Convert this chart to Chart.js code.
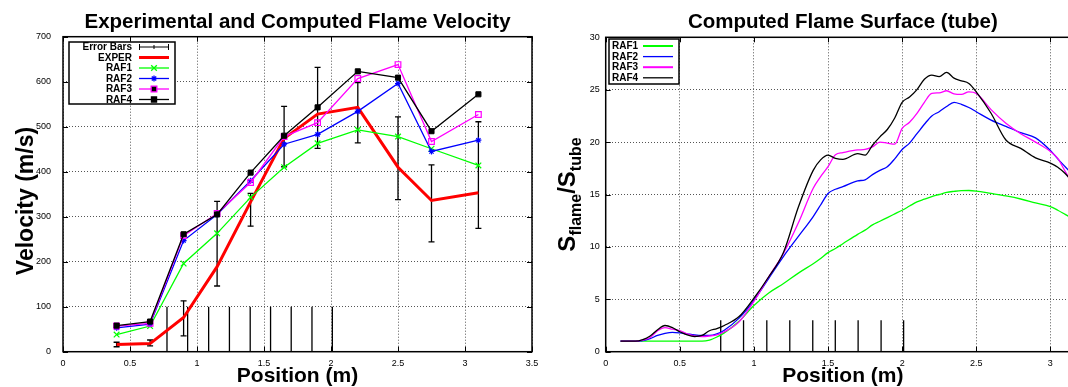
<!DOCTYPE html>
<html><head><meta charset="utf-8">
<script src="https://cdn.jsdelivr.net/npm/chart.js@4/dist/chart.umd.min.js"></script>
<style>
html,body{margin:0;padding:0;background:#fff;overflow:hidden;width:1068px;height:387px;position:relative;}
#w1{position:absolute;left:0;top:0;width:545px;height:387px;}
#w2{position:absolute;left:545px;top:0;width:560px;height:387px;}
</style></head><body>
<div id="w1"><canvas id="c1"></canvas></div>
<div id="w2"><canvas id="c2"></canvas></div>
<script>
// ---------- Left chart data ----------
const velTitle = 'Experimental and Computed Flame Velocity';
const velPositions = [0.40,0.65,0.90,1.15,1.40,1.65,1.90,2.20,2.50,2.75,3.10];
const experVel = [16,18,76,189,333,474,528,543,410,336,353];
const errLow  = [11,13,35,146,279,411,452,464,338,244,274];
const errHigh = [21,26,113,334,352,545,632,598,522,415,511];
const raf1Vel = [38,57,196,263,343,410,463,493,478,451,414];
const raf2Vel = [53,61,247,305,380,461,483,534,596,445,470];
const raf3Vel = [57,63,258,307,376,478,509,607,638,467,527];
const raf4Vel = [58,67,261,305,398,480,543,623,609,490,572];
const velXTicks = [0,0.5,1,1.5,2,2.5,3,3.5];
const velYTicks = [0,100,200,300,400,500,600,700];
const sensorPos = [0.776,0.930,1.087,1.242,1.397,1.549,1.703,1.858,2.010];
const velSensorTop = 100;

// ---------- Right chart data ----------
const surfTitle = 'Computed Flame Surface (tube)';
const surfX = [0.10,0.20,0.25,0.30,0.35,0.40,0.45,0.50,0.55,0.60,0.65,0.70,0.75,0.80,0.90,1.00,1.10,1.20,1.30,1.40,1.45,1.50,1.55,1.60,1.70,1.75,1.80,1.85,1.90,1.95,2.00,2.05,2.10,2.15,2.20,2.25,2.30,2.35,2.40,2.45,2.50,2.60,2.70,2.80,2.90,3.00,3.05,3.10,3.15];
const raf1Surf = [1.0,1.0,1.0,1.0,1.0,1.0,1.0,1.0,1.0,1.0,1.0,1.1,1.4,1.8,2.9,4.4,5.6,6.5,7.5,8.4,8.9,9.45,9.85,10.3,11.2,11.6,12.1,12.45,12.8,13.15,13.5,13.9,14.3,14.55,14.8,15.0,15.2,15.3,15.37,15.38,15.33,15.1,14.86,14.57,14.2,13.85,13.5,13.1,12.7];
const raf2Surf = [1.0,1.0,1.05,1.25,1.55,1.75,1.85,1.8,1.7,1.6,1.55,1.55,1.7,2.05,3.2,4.9,7.0,9.1,11.0,12.9,14.0,15.1,15.5,15.75,16.3,16.4,16.9,17.3,17.65,18.4,19.3,19.9,20.8,21.7,22.5,22.9,23.4,23.8,23.6,23.3,22.9,22.1,21.5,20.9,20.4,19.2,18.4,17.65,16.9];
const raf3Surf = [1.0,1.0,1.1,1.35,2.0,2.3,2.15,2.0,1.7,1.5,1.45,1.5,1.6,1.9,2.85,4.8,7.15,9.4,12.3,15.6,16.7,17.65,18.8,19.0,19.25,19.3,19.55,20.0,19.9,19.8,21.3,21.9,22.75,23.8,24.65,24.7,24.9,24.6,24.55,24.8,24.65,23.1,21.8,20.8,20.0,19.1,18.45,17.2,16.0];
const raf4Surf = [1.0,1.0,1.15,1.5,2.1,2.5,2.3,1.9,1.6,1.45,1.55,2.0,2.2,2.5,3.35,5.1,7.15,9.5,13.8,17.3,18.3,18.75,18.45,18.35,18.9,18.75,19.7,20.5,21.2,22.3,23.8,24.3,25.0,26.0,26.4,26.25,26.65,26.1,25.85,25.6,24.8,22.75,20.2,19.4,18.5,18.0,17.6,17.0,16.2];
const surfXTicks = [0,0.5,1,1.5,2,2.5,3];
const surfYTicks = [0,5,10,15,20,25,30];
const surfXMax = 3.2;
const surfSensorTop = 3;

// ---------- helpers ----------
const FONT = '"Liberation Sans", Arial, Helvetica, sans-serif';
function pts(xs, ys){ return xs.map((x,i)=>({x:x, y:ys[i]})); }
function segs(xs, lo, hi){ const o=[]; xs.forEach((x,i)=>{ o.push({x:x,y:lo(i)},{x:x,y:hi(i)},{x:x,y:null}); }); return o; }
const fmt = v => String(v);

const framePlugin = {
  id:'frame',
  afterDatasetsDraw(chart){
    const {ctx, chartArea:a, scales} = chart;
    ctx.save();
    ctx.strokeStyle='#000'; ctx.lineWidth=1.5;
    ctx.strokeRect(a.left, a.top, a.right-a.left, a.bottom-a.top);
    ctx.lineWidth=1;
    const tl=5;
    scales.x.ticks.forEach(t=>{
      const p=Math.round(scales.x.getPixelForValue(t.value))+0.5;
      ctx.beginPath(); ctx.moveTo(p,a.bottom); ctx.lineTo(p,a.bottom-tl);
      ctx.moveTo(p,a.top); ctx.lineTo(p,a.top+tl); ctx.stroke();
    });
    scales.y.ticks.forEach(t=>{
      const p=Math.round(scales.y.getPixelForValue(t.value))+0.5;
      ctx.beginPath(); ctx.moveTo(a.left,p); ctx.lineTo(a.left+tl,p);
      ctx.moveTo(a.right,p); ctx.lineTo(a.right-tl,p); ctx.stroke();
    });
    ctx.restore();
  }
};

const legendPlugin = {
  id:'boxLegend',
  afterDraw(chart, args, o){
    if(!o || !o.items) return;
    const ctx=chart.ctx;
    ctx.save();
    ctx.fillStyle='#fff'; ctx.fillRect(o.box[0],o.box[1],o.box[2],o.box[3]);
    ctx.strokeStyle='#000'; ctx.lineWidth=1.5; ctx.strokeRect(o.box[0],o.box[1],o.box[2],o.box[3]);
    ctx.font='bold 10px '+FONT; ctx.textBaseline='middle';
    o.items.forEach((it,i)=>{
      const y=o.y0+i*o.dy;
      ctx.fillStyle='#000';
      ctx.textAlign=o.textAlign;
      ctx.fillText(it.label,o.textX,y+0.5);
      ctx.strokeStyle=it.color; ctx.lineWidth=it.width;
      ctx.beginPath(); ctx.moveTo(o.s0,y); ctx.lineTo(o.s1,y); ctx.stroke();
      const m=(o.s0+o.s1)/2;
      if(it.err){
        ctx.lineWidth=1;
        ctx.beginPath();
        ctx.moveTo(o.s0+0.5,y-3); ctx.lineTo(o.s0+0.5,y+3);
        ctx.moveTo(o.s1-0.5,y-3); ctx.lineTo(o.s1-0.5,y+3);
        ctx.moveTo(m,y-2); ctx.lineTo(m,y+2);
        ctx.stroke();
      }
      if(it.point){
        Chart.helpers.drawPoint(ctx,{pointStyle:it.point,radius:it.radius,borderWidth:1.2},m,y);
      }
    });
    ctx.restore();
  }
};

// rotated y-axis title, optionally with subscripts
const yTitlePlugin = {
  id:'yTitle',
  afterDraw(chart, args, o){
    if(!o || !o.parts) return;
    const ctx=chart.ctx;
    ctx.save();
    let total=0;
    const parts=o.parts.map(p=>{ctx.font='bold '+p.size+'px '+FONT; const w=ctx.measureText(p.text).width; total+=w; return Object.assign({w:w},p);});
    ctx.translate(o.x,o.y); ctx.rotate(-Math.PI/2);
    ctx.fillStyle='#000'; ctx.textBaseline='alphabetic'; ctx.textAlign='left';
    let x=-total/2;
    parts.forEach(p=>{ctx.font='bold '+p.size+'px '+FONT; ctx.fillText(p.text,x,o.base+(p.sub||0)); x+=p.w;});
    ctx.restore();
  }
};

function axisCommon(){
  return {
    type:'linear',
    grid:{color:'#555',lineWidth:1,drawTicks:false},
    border:{display:false,dash:[1,2]},
  };
}

// ---------- Left chart ----------
const velSets = [
  {label:'RAF4',data:pts(velPositions,raf4Vel),borderColor:'#000',backgroundColor:'#000',borderWidth:1.3,pointStyle:'rect',pointRadius:3.6,pointBorderWidth:1,pointBackgroundColor:'#000',order:0},
  {label:'RAF3',data:pts(velPositions,raf3Vel),borderColor:'#ff00ff',borderWidth:1.3,pointStyle:'rect',pointRadius:4,pointBorderWidth:1.2,pointBackgroundColor:'rgba(0,0,0,0)',order:1},
  {label:'RAF2',data:pts(velPositions,raf2Vel),borderColor:'#0000ff',borderWidth:1.3,pointStyle:'star',pointRadius:3,pointBorderWidth:1.2,order:2},
  {label:'RAF1',data:pts(velPositions,raf1Vel),borderColor:'#00ff00',borderWidth:1.3,pointStyle:'crossRot',pointRadius:4,pointBorderWidth:1.2,order:3},
  {label:'EXPER',data:pts(velPositions,experVel),borderColor:'#ff0000',borderWidth:3,pointRadius:0,order:4},
  {label:'Error Bars',data:segs(velPositions,i=>errLow[i],i=>errHigh[i]),borderColor:'#000',borderWidth:1.3,pointRadius:0,spanGaps:false,order:5},
  {label:'caps',data:[].concat(pts(velPositions,errLow),pts(velPositions,errHigh)),borderColor:'#000',showLine:false,pointStyle:'line',pointRadius:3,pointBorderWidth:1.3,order:5},
  {label:'sensors',data:segs(sensorPos,()=>0,()=>velSensorTop),borderColor:'#000',borderWidth:1.3,pointRadius:0,spanGaps:false,order:6}
];

new Chart(document.getElementById('c1'),{
  type:'line',
  data:{datasets:velSets},
  plugins:[framePlugin,legendPlugin,yTitlePlugin],
  options:{
    responsive:true,maintainAspectRatio:false,animation:false,
    layout:{padding:{left:0,right:13,top:0,bottom:0}},
    plugins:{
      legend:{display:false},tooltip:{enabled:false},
      title:{display:true,text:velTitle,fullSize:false,color:'#000',font:{family:FONT,size:20.5,weight:'bold',lineHeight:1.2},padding:{top:9.8,bottom:2.3}},
      boxLegend:{box:[69,42,106,62],y0:47,dy:10.5,textX:132,textAlign:'right',s0:139,s1:169,items:[
        {label:'Error Bars',color:'#000',width:1,err:true},
        {label:'EXPER',color:'#ff0000',width:3},
        {label:'RAF1',color:'#00ff00',width:1.3,point:'crossRot',radius:4},
        {label:'RAF2',color:'#0000ff',width:1.3,point:'star',radius:3},
        {label:'RAF3',color:'#ff00ff',width:1.3,point:'rect',radius:4},
        {label:'RAF4',color:'#000',width:1.3,point:'rect',radius:3.6}
      ]},
      yTitle:{x:25,y:201,base:8,parts:[{text:'Velocity (m/s)',size:23}]}
    },
    elements:{line:{tension:0}},
    scales:{
      x:Object.assign(axisCommon(),{min:velXTicks[0],max:velXTicks[velXTicks.length-1],
        ticks:{stepSize:0.5,padding:6,color:'#000',font:{family:FONT,size:9},maxRotation:0,callback:fmt},
        afterBuildTicks:s=>{s.ticks=velXTicks.map(v=>({value:v}));},
        afterFit:s=>{s.height=35.3;},
        title:{display:true,text:'Position (m)',color:'#000',font:{family:FONT,size:21,weight:'bold',lineHeight:1},padding:{top:0,bottom:0}}}),
      y:Object.assign(axisCommon(),{min:velYTicks[0],max:velYTicks[velYTicks.length-1],
        ticks:{stepSize:100,padding:12,color:'#000',font:{family:FONT,size:9},callback:fmt},
        afterBuildTicks:s=>{s.ticks=velYTicks.map(v=>({value:v}));},
        afterFit:s=>{s.width=63;}})
    }
  }
});

// ---------- Right chart ----------
const surfSets = [
  {label:'RAF4',data:pts(surfX,raf4Surf),borderColor:'#000',order:0},
  {label:'RAF3',data:pts(surfX,raf3Surf),borderColor:'#ff00ff',order:1},
  {label:'RAF2',data:pts(surfX,raf2Surf),borderColor:'#0000ff',order:2},
  {label:'RAF1',data:pts(surfX,raf1Surf),borderColor:'#00ff00',order:3},
  {label:'sensors',data:segs(sensorPos,()=>0,()=>surfSensorTop),borderColor:'#000',borderWidth:1.3,spanGaps:false,cubicInterpolationMode:'default',tension:0,order:6}
];

new Chart(document.getElementById('c2'),{
  type:'line',
  data:{datasets:surfSets},
  plugins:[framePlugin,legendPlugin,yTitlePlugin],
  options:{
    responsive:true,maintainAspectRatio:false,animation:false,
    layout:{padding:{left:0,right:25,top:0,bottom:0}},
    elements:{line:{borderWidth:1.3,cubicInterpolationMode:'monotone'},point:{radius:0}},
    plugins:{
      legend:{display:false},tooltip:{enabled:false},
      title:{display:true,text:surfTitle,fullSize:false,color:'#000',font:{family:FONT,size:20.5,weight:'bold',lineHeight:1.2},padding:{top:10.4,bottom:2.3}},
      boxLegend:{box:[64,39,70,45],y0:46,dy:10.6,textX:67,textAlign:'left',s0:98,s1:128,items:[
        {label:'RAF1',color:'#00ff00',width:2},
        {label:'RAF2',color:'#0000ff',width:1.3},
        {label:'RAF3',color:'#ff00ff',width:2},
        {label:'RAF4',color:'#000',width:1.3}
      ]},
      yTitle:{x:22,y:194.5,base:8,parts:[{text:'S',size:24},{text:'flame',size:16,sub:6},{text:'/',size:24},{text:'S',size:24},{text:'tube',size:16,sub:6}]}
    },
    scales:{
      x:Object.assign(axisCommon(),{min:0,max:surfXMax,
        ticks:{stepSize:0.5,padding:6,color:'#000',font:{family:FONT,size:9},maxRotation:0,callback:fmt},
        afterBuildTicks:s=>{s.ticks=surfXTicks.map(v=>({value:v}));},
        afterFit:s=>{s.height=35.3;},
        title:{display:true,text:'Position (m)',color:'#000',font:{family:FONT,size:21,weight:'bold',lineHeight:1},padding:{top:0,bottom:0}}}),
      y:Object.assign(axisCommon(),{min:surfYTicks[0],max:surfYTicks[surfYTicks.length-1],
        ticks:{stepSize:5,padding:6,color:'#000',font:{family:FONT,size:9},callback:fmt},
        afterBuildTicks:s=>{s.ticks=surfYTicks.map(v=>({value:v}));},
        afterFit:s=>{s.width=60.7;}})
    }
  }
});
</script>
</body></html>
